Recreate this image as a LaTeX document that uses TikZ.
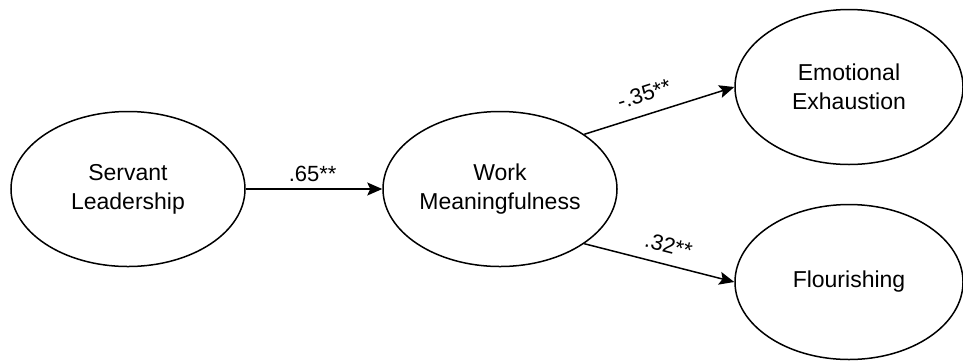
\documentclass[tikz,border=0pt]{standalone}
\usepackage{fontspec}
\setmainfont{Liberation Sans}
\usetikzlibrary{shapes.geometric,arrows.meta}

\tikzset{
  construct/.style={draw=black, line width=1.5pt, ellipse, inner sep=0pt,
    minimum width=234pt, minimum height=155pt, align=center,
    font=\fontsize{23}{29}\selectfont},
  path/.style={draw=black, line width=1.5pt, -{Stealth[length=15pt,width=13pt,inset=3pt]}},
  coef/.style={font=\fontsize{22}{25}\selectfont, inner sep=0pt}
}

\begin{document}
\begin{tikzpicture}[x=1pt, y=-1pt]
  \useasboundingbox (0,0) rectangle (963,360);

  % latent constructs
  \node[construct] (sl) at (128,189) {Servant\\Leadership};
  \node[construct] (wm) at (500,189) {Work\\Meaningfulness};
  \node[construct, minimum width=228pt] (ee) at (849,87) {Emotional\\Exhaustion};
  \node[construct, minimum width=228pt] (fl) at (849,282) {Flourishing};

  % structural paths with standardized coefficients
  \draw[path] (sl.east) -- node[coef, pos=.49, above=7pt] {.65**} (wm.west);
  \draw[path] (wm.33) -- node[coef, pos=.44, sloped, above=12pt] {-.35**} (ee.west);
  \draw[path] (wm.-33) -- node[coef, pos=.53, sloped, above=11pt] {.32**} (fl.west);
\end{tikzpicture}
\end{document}
